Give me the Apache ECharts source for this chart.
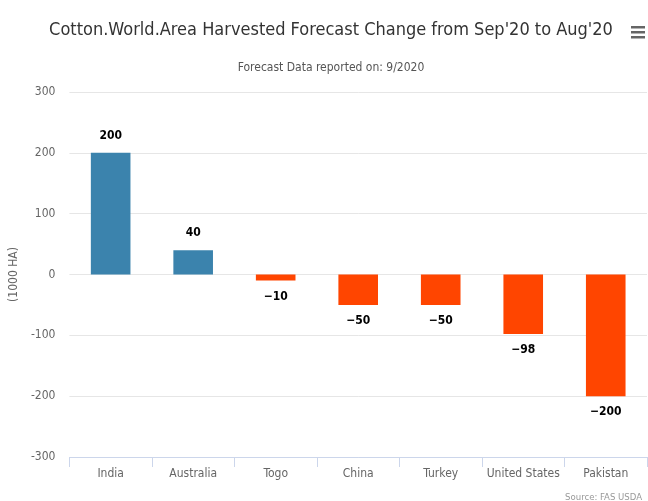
<!DOCTYPE html>
<html>
<head>
<meta charset="utf-8">
<script src="https://cdn.jsdelivr.net/npm/echarts@6/dist/echarts.min.js"></script>
<style>
  html, body { margin: 0; padding: 0; background: #fff; }
  #chart { width: 648px; height: 501px; }
</style>
</head>
<body>
<div id="chart"></div>
<script>
// data
let countries = ['India', 'Australia', 'Togo', 'China', 'Turkey', 'United States', 'Pakistan']
let change = [200, 40, -10, -50, -50, -98, -200]

let font = '"DejaVu Sans Condensed", "Liberation Sans Narrow", sans-serif'
let chart = echarts.init(document.getElementById('chart'))

let option = {
  backgroundColor: '#fff',
  textStyle: { fontFamily: font },
  title: [
    {
      text: "Cotton.World.Area Harvested Forecast Change from Sep'20 to Aug'20",
      left: 326, top: 16, textAlign: 'center',
      textStyle: { fontSize: 18, fontWeight: 'normal', color: '#333', fontFamily: font }
    },
    {
      text: 'Forecast Data reported on: 9/2020',
      left: 326, top: 57, textAlign: 'center',
      textStyle: { fontSize: 12, fontWeight: 'normal', color: '#555', fontFamily: font }
    },
    {
      text: 'Source: FAS USDA',
      right: 1, top: 488,
      textStyle: { fontSize: 9.5, fontWeight: 'normal', color: '#999', fontFamily: font }
    }
  ],
  grid: { left: 67.5, right: 1, top: 92, bottom: 44 },
  xAxis: {
    type: 'category',
    data: countries,
    axisLine: { onZero: false, lineStyle: { color: '#ccd6eb' } },
    axisTick: { show: true, length: 10, lineStyle: { color: '#ccd6eb' } },
    axisLabel: { interval: 0, color: '#666', fontSize: 12, margin: 11, fontFamily: font }
  },
  yAxis: {
    type: 'value',
    min: -300, max: 300, interval: 100,
    name: '(1000 HA)',
    nameLocation: 'middle',
    nameGap: 43,
    nameTextStyle: { color: '#666', fontSize: 12, fontFamily: font },
    axisLine: { show: false },
    axisTick: { show: false },
    axisLabel: { color: '#666', fontSize: 12, margin: 14, fontFamily: font },
    splitLine: { lineStyle: { color: '#e6e6e6' } }
  },
  series: [{
    type: 'bar',
    barWidth: '48%',
    data: change.map(v => ({
      value: v,
      itemStyle: { color: v >= 0 ? '#3b83ad' : '#ff4500' },
      label: { position: v >= 0 ? 'top' : 'bottom', distance: v >= 0 ? 11 : 10 }
    })),
    label: {
      show: true,
      color: '#000',
      fontWeight: 'bold',
      fontSize: 12,
      fontFamily: font,
      formatter: p => p.value < 0 ? '\u2212' + Math.abs(p.value) : p.value
    }
  }],
  graphic: [
    { type: 'rect', left: 631, top: 26, shape: { width: 14, height: 2.5 }, style: { fill: '#666' } },
    { type: 'rect', left: 631, top: 31, shape: { width: 14, height: 2.5 }, style: { fill: '#666' } },
    { type: 'rect', left: 631, top: 36, shape: { width: 14, height: 2.5 }, style: { fill: '#666' } }
  ]
}

option && chart.setOption(option)
</script>
</body>
</html>
